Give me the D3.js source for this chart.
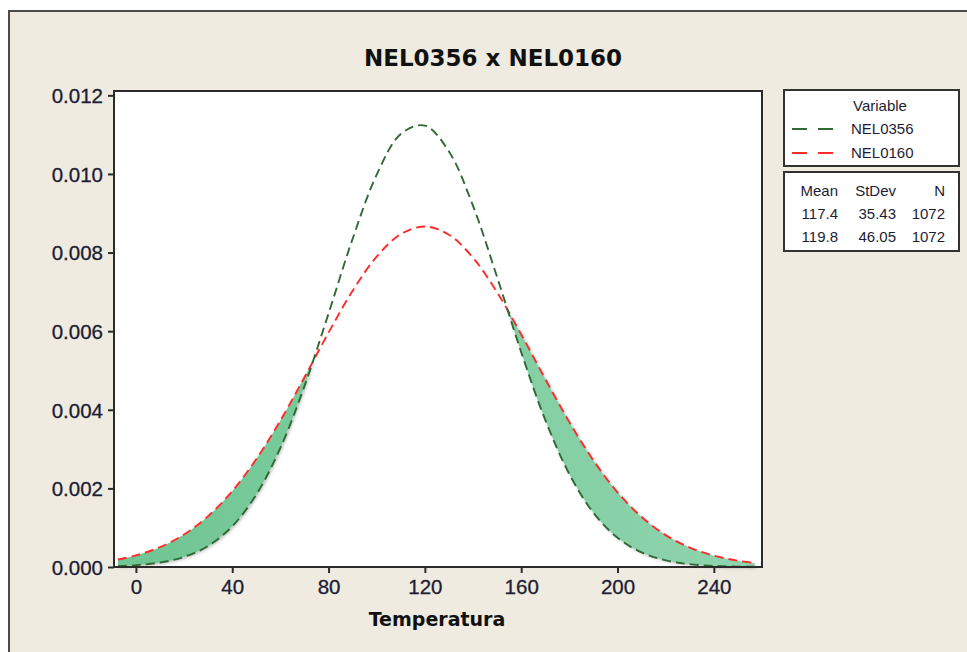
<!doctype html>
<html>
<head>
<meta charset="utf-8">
<title>NEL0356 x NEL0160</title>
<script src="https://cdn.jsdelivr.net/npm/d3@7/dist/d3.min.js"></script>
<style>
  body { margin: 0; background: #fff; }
  svg { display: block; }
</style>
</head>
<body>
<svg id="chart" width="967" height="652"></svg>
<script>
// values
var temps = [-7.5, 0, 10, 20, 30, 40, 50, 60, 70, 80, 90, 100, 110, 120, 130,
  140, 150, 160, 170, 180, 190, 200, 210, 220, 230, 240, 250, 257];
var nel0356 = [0.0000225, 0.0000465, 0.000114, 0.000257, 0.000537, 0.001036, 0.001844,
  0.003031, 0.004602, 0.006450, 0.008350, 0.009981, 0.011017, 0.011230, 0.010570,
  0.009187, 0.007374, 0.005465, 0.003741, 0.002364, 0.001380, 0.000744, 0.000370,
  0.000170, 0.0000721, 0.0000283, 0.0000102, 0.0000048];
var nel0160 = [0.000190, 0.000294, 0.000505, 0.000828, 0.001294, 0.001930, 0.002746,
  0.003728, 0.004827, 0.005963, 0.007026, 0.007898, 0.008469, 0.008663, 0.008453,
  0.007868, 0.006987, 0.005918, 0.004782, 0.003686, 0.002710, 0.001901, 0.001272,
  0.000812, 0.000495, 0.000287, 0.000159, 0.000102];

var seriesNames = ['NEL0356', 'NEL0160'];
var statHeader = ['Mean', 'StDev', 'N'];
var statRows = [['117.4', '35.43', '1072'], ['119.8', '46.05', '1072']];
var xTicks = [0, 40, 80, 120, 160, 200, 240];
var yTicks = [0, 0.002, 0.004, 0.006, 0.008, 0.010, 0.012];

var green = '#2f6a34', red = '#ff2b2b';

var svg = d3.select('#chart');

// window background
svg.append('rect').attr('x', 8).attr('y', 10).attr('width', 967).attr('height', 652)
  .attr('fill', '#efebe1');
svg.append('path').attr('d', 'M9,652V11H967')
  .attr('fill', 'none').attr('stroke', '#4a4a4a').attr('stroke-width', 2);

var pLeft = 114, pRight = 762, pTop = 91, pBottom = 567;

var x = d3.scaleLinear().domain([-9.1, 260]).range([pLeft, pRight]);
var y = d3.scaleLinear().domain([0, 0.01211]).range([pBottom, pTop]);

svg.append('rect').attr('x', pLeft).attr('y', pTop)
  .attr('width', pRight - pLeft).attr('height', pBottom - pTop).attr('fill', '#fff');

var pts = temps.map(function (t, i) {
  return { t: t, g: nel0356[i], r: nel0160[i] };
});

var curve = d3.curveCatmullRom.alpha(0.5);

var defs = svg.append('defs');
defs.append('clipPath').attr('id', 'aboveGreen')
  .append('path')
  .attr('d', d3.area().curve(curve)
    .x(function (d) { return x(d.t); })
    .y0(pTop - 5)
    .y1(function (d) { return y(d.g); })(pts));

var shadow = defs.append('filter').attr('id', 'shade')
  .attr('x', '-10%').attr('y', '-10%').attr('width', '130%').attr('height', '130%');
shadow.append('feDropShadow').attr('dx', 1.5).attr('dy', 1.5)
  .attr('stdDeviation', 1.5).attr('flood-color', '#000').attr('flood-opacity', 0.25);

var grad = defs.append('linearGradient').attr('id', 'fillGrad')
  .attr('x1', 0).attr('x2', 1).attr('y1', 0).attr('y2', 0);
grad.append('stop').attr('offset', '0%').attr('stop-color', '#6fc692');
grad.append('stop').attr('offset', '100%').attr('stop-color', '#8fd4ae');

// shaded region where NEL0160 lies over NEL0356
svg.append('g').attr('filter', 'url(#shade)')
  .append('path')
  .attr('clip-path', 'url(#aboveGreen)')
  .attr('fill', 'url(#fillGrad)')
  .attr('d', d3.area().curve(curve)
    .x(function (d) { return x(d.t); })
    .y0(y(0))
    .y1(function (d) { return y(d.r); })(pts));

var line = function (key) {
  return d3.line().curve(curve)
    .x(function (d) { return x(d.t); })
    .y(function (d) { return y(d[key]); });
};

svg.append('path').attr('d', line('r')(pts))
  .attr('fill', 'none').attr('stroke', red).attr('stroke-width', 1.9)
  .attr('stroke-dasharray', '9,5');
svg.append('path').attr('d', line('g')(pts))
  .attr('fill', 'none').attr('stroke', green).attr('stroke-width', 1.9)
  .attr('stroke-dasharray', '9,5');

// frame of the plot area
svg.append('rect').attr('x', pLeft).attr('y', pTop)
  .attr('width', pRight - pLeft).attr('height', pBottom - pTop)
  .attr('fill', 'none').attr('stroke', '#2b2b2b').attr('stroke-width', 2);

// axes
var xAxis = svg.append('g').attr('transform', 'translate(0,' + pBottom + ')')
  .call(d3.axisBottom(x).tickValues(xTicks).tickSize(6).tickPadding(6).tickSizeOuter(0));
var yAxis = svg.append('g').attr('transform', 'translate(' + pLeft + ',0)')
  .call(d3.axisLeft(y).tickValues(yTicks).tickFormat(d3.format('.3f'))
    .tickSize(6).tickPadding(5).tickSizeOuter(0));
[xAxis, yAxis].forEach(function (a) {
  a.select('.domain').remove();
  a.selectAll('line').attr('stroke', '#2b2b2b').attr('stroke-width', 2);
  a.selectAll('text').attr('fill', '#1d1d33')
    .style('font-family', '"Liberation Sans", Arial, sans-serif').style('font-size', '20.5px')
    .attr('stroke', '#1d1d33').attr('stroke-width', 0.3);
});
yAxis.selectAll('text').attr('dy', '0.36em');

// title and axis label
svg.append('text').attr('x', 493).attr('y', 66).attr('text-anchor', 'middle')
  .style('font-family', '"DejaVu Sans", sans-serif').style('font-weight', 'bold')
  .style('font-size', '23px').attr('fill', '#111').text('NEL0356 x NEL0160');
svg.append('text').attr('x', 437).attr('y', 626).attr('text-anchor', 'middle')
  .style('font-family', '"DejaVu Sans", sans-serif').style('font-weight', 'bold')
  .style('font-size', '19px').attr('fill', '#111').text('Temperatura');

// legend
var lg = svg.append('g')
  .style('font-family', '"Liberation Sans", Arial, sans-serif').style('font-size', '15px')
  .attr('fill', '#1d1d33');
lg.append('rect').attr('x', 784).attr('y', 90).attr('width', 175).attr('height', 76)
  .attr('fill', '#fff').attr('stroke', '#333').attr('stroke-width', 2);
lg.append('text').attr('x', 880).attr('y', 111).attr('text-anchor', 'middle').text('Variable');
[green, red].forEach(function (c, i) {
  var yy = 129 + i * 24;
  lg.append('line').attr('x1', 792).attr('x2', 836).attr('y1', yy).attr('y2', yy)
    .attr('stroke', c).attr('stroke-width', 2).attr('stroke-dasharray', '15,11');
  lg.append('text').attr('x', 851).attr('y', yy + 5).text(seriesNames[i]);
});

lg.append('rect').attr('x', 784).attr('y', 172).attr('width', 175).attr('height', 79)
  .attr('fill', '#fff').attr('stroke', '#333').attr('stroke-width', 2);
var colX = [838, 896, 945];
[statHeader].concat(statRows).forEach(function (row, r) {
  row.forEach(function (v, c) {
    lg.append('text').attr('x', colX[c]).attr('y', 196 + r * 23)
      .attr('text-anchor', 'end').text(v);
  });
});
</script>
</body>
</html>
